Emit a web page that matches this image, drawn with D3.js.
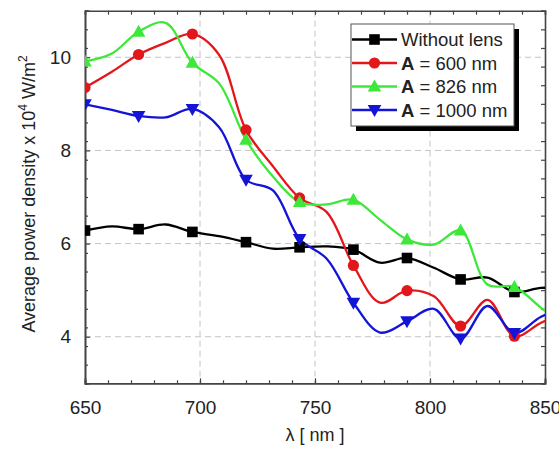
<!DOCTYPE html>
<html>
<head>
<meta charset="utf-8">
<script src="https://cdn.jsdelivr.net/npm/d3@7"></script>
<style>
  body { margin: 0; background: #fff; }
  svg text { font-family: "Liberation Sans", Arial, sans-serif; fill: #222; }
</style>
</head>
<body>
<div id="chart"></div>
<script>
// wavelength samples (nm); markers sit on every other sample
const wavelengths = [650, 661.7, 673.3, 685, 696.7, 708.3, 720, 731.7, 743.3, 755, 766.7, 778.3, 790, 801.7, 813.3, 825, 836.7, 848.3, 860];

const withoutLens = [6.28, 6.37, 6.31, 6.41, 6.25, 6.16, 6.03, 5.89, 5.92, 5.94, 5.87, 5.59, 5.69, 5.48, 5.23, 5.27, 4.96, 5.05, 5.02];
const a600 = [9.35, 9.69, 10.06, 10.31, 10.5, 10.05, 8.44, 7.66, 6.98, 6.68, 5.53, 4.73, 4.99, 4.87, 4.23, 4.79, 4.01, 4.30, 4.55];
const a826 = [9.91, 10.08, 10.55, 10.74, 9.88, 9.44, 8.23, 7.44, 6.89, 6.84, 6.94, 6.51, 6.09, 5.98, 6.28, 5.12, 5.07, 4.62, 4.2];
const a1000 = [8.99, 8.87, 8.74, 8.71, 8.89, 8.5, 7.37, 7.14, 6.1, 5.68, 4.73, 4.09, 4.33, 4.6, 3.96, 4.66, 4.08, 4.43, 4.65];

const xTicks = [650, 700, 750, 800, 850];
const yTicks = [4, 6, 8, 10];

const series = [
    {bold: "", name: "Without lens", values: withoutLens, color: "#000000", symbol: "square"},
    {bold: "A", name: " = 600 nm", values: a600, color: "#e3161b", symbol: "circle"},
    {bold: "A", name: " = 826 nm", values: a826, color: "#3ee83a", symbol: "up"},
    {bold: "A", name: " = 1000 nm", values: a1000, color: "#1414d6", symbol: "down"}
];

let margin = {top: 10.7, right: 14, bottom: 66.7, left: 85},
    width = 559 - margin.left - margin.right,
    height = 450 - margin.top - margin.bottom;

let svg = d3.select("#chart")
    .append("svg")
    .attr("width", 559)
    .attr("height", 450)
    .append("g")
    .attr("transform", "translate(" + margin.left + "," + margin.top + ")");

let x = d3.scaleLinear().domain([650, 850]).range([0, width]);
let y = d3.scaleLinear().domain([3, 11]).range([height, 0]);

svg.append("defs").append("clipPath").attr("id", "plot-clip")
    .append("rect").attr("width", width).attr("height", height);

// dashed grid
svg.append("g").selectAll("line").data(xTicks.slice(1, -1)).enter().append("line")
    .attr("x1", d => x(d)).attr("x2", d => x(d)).attr("y1", 0).attr("y2", height)
    .attr("stroke", "#c4c4c4").attr("stroke-dasharray", "6,4");
svg.append("g").selectAll("line").data(yTicks).enter().append("line")
    .attr("x1", 0).attr("x2", width).attr("y1", d => y(d)).attr("y2", d => y(d))
    .attr("stroke", "#c4c4c4").attr("stroke-dasharray", "6,4");

// axes with inward ticks on all four sides
const axisColor = "#444";
function styleAxis(g) {
    g.selectAll("path").attr("stroke", axisColor).attr("stroke-width", 1.6);
    g.selectAll("line").attr("stroke", axisColor).attr("stroke-width", 1.2);
    g.selectAll("text").style("font-size", "19px").attr("fill", "#222");
}
const xMinor = d3.range(650, 851, 10);
const yMinor = d3.range(3, 11.01, 0.4).map(v => +v.toFixed(2));

svg.append("g").attr("transform", "translate(0," + height + ")")
    .call(d3.axisBottom(x).tickValues(xMinor).tickSize(-3).tickFormat(""))
    .call(styleAxis);
svg.append("g").attr("transform", "translate(0," + height + ")")
    .call(d3.axisBottom(x).tickValues(xTicks).tickSize(-5).tickPadding(17).tickFormat(d3.format("d")))
    .call(styleAxis);
svg.append("g")
    .call(d3.axisTop(x).tickValues(xMinor).tickSize(-4).tickFormat(""))
    .call(styleAxis);
svg.append("g")
    .call(d3.axisLeft(y).tickValues(yMinor).tickSize(-3).tickFormat(""))
    .call(styleAxis);
svg.append("g")
    .call(d3.axisLeft(y).tickValues(yTicks).tickSize(-5).tickPadding(14).tickFormat(d3.format("d")))
    .call(styleAxis);
svg.append("g").attr("transform", "translate(" + width + ",0)")
    .call(d3.axisRight(y).tickValues(yMinor).tickSize(-4).tickFormat(""))
    .call(styleAxis);

// axis titles
svg.append("text")
    .attr("x", width / 2).attr("y", height + 58)
    .attr("text-anchor", "middle").style("font-size", "18px")
    .text("λ [ nm ]");

let yTitle = svg.append("text")
    .attr("transform", "translate(-50," + (height / 2 - 3) + ") rotate(-90)")
    .attr("text-anchor", "middle").style("font-size", "18px");
yTitle.append("tspan").text("Average power density x 10");
yTitle.append("tspan").attr("dy", -8).style("font-size", "12px").text("4");
yTitle.append("tspan").attr("dy", 8).text(" W/m");
yTitle.append("tspan").attr("dy", -8).style("font-size", "12px").text("2");

// lines
let line = d3.line()
    .x((d, i) => x(wavelengths[i]))
    .y(d => y(d))
    .curve(d3.curveCatmullRom.alpha(0.5));

function drawSymbol(g, type, color, cx, cy) {
    if (type === "square") {
        g.append("rect").attr("x", cx - 5.3).attr("y", cy - 5.3).attr("width", 10.6).attr("height", 10.6).attr("fill", color);
    } else if (type === "circle") {
        g.append("circle").attr("cx", cx).attr("cy", cy).attr("r", 5.6).attr("fill", color);
    } else if (type === "up") {
        g.append("path").attr("d", `M${cx},${cy - 7} L${cx + 6.8},${cy + 5} L${cx - 6.8},${cy + 5}Z`).attr("fill", color);
    } else {
        g.append("path").attr("d", `M${cx},${cy + 7} L${cx + 6.8},${cy - 5} L${cx - 6.8},${cy - 5}Z`).attr("fill", color);
    }
}

let plot = svg.append("g").attr("clip-path", "url(#plot-clip)");
series.forEach(s => {
    plot.append("path")
        .datum(s.values)
        .attr("fill", "none")
        .attr("stroke", s.color)
        .attr("stroke-width", 2.3)
        .attr("d", line);
});
series.forEach(s => {
    let g = plot.append("g");
    s.values.forEach((v, i) => {
        if (i % 2 === 0) drawSymbol(g, s.symbol, s.color, x(wavelengths[i]), y(v));
    });
});

// legend with drop shadow
let legend = svg.append("g").attr("transform", "translate(" + (351 - margin.left) + "," + (24 - margin.top) + ")");
legend.append("rect").attr("x", 5).attr("y", 5).attr("width", 163).attr("height", 102).attr("fill", "#000");
legend.append("rect").attr("width", 163).attr("height", 102).attr("fill", "#fff")
    .attr("stroke", "#555").attr("stroke-width", 1);

series.forEach((s, i) => {
    let cy = 15.5 + i * 23.5;
    legend.append("line").attr("x1", 1).attr("x2", 46).attr("y1", cy).attr("y2", cy)
        .attr("stroke", s.color).attr("stroke-width", 2.3);
    drawSymbol(legend, s.symbol, s.color, 23.5, cy);
    let t = legend.append("text").attr("x", 50).attr("y", cy + 6.5).style("font-size", "18.5px");
    if (s.bold) t.append("tspan").style("font-weight", "bold").text(s.bold);
    t.append("tspan").text(s.name);
});
</script>
</body>
</html>
